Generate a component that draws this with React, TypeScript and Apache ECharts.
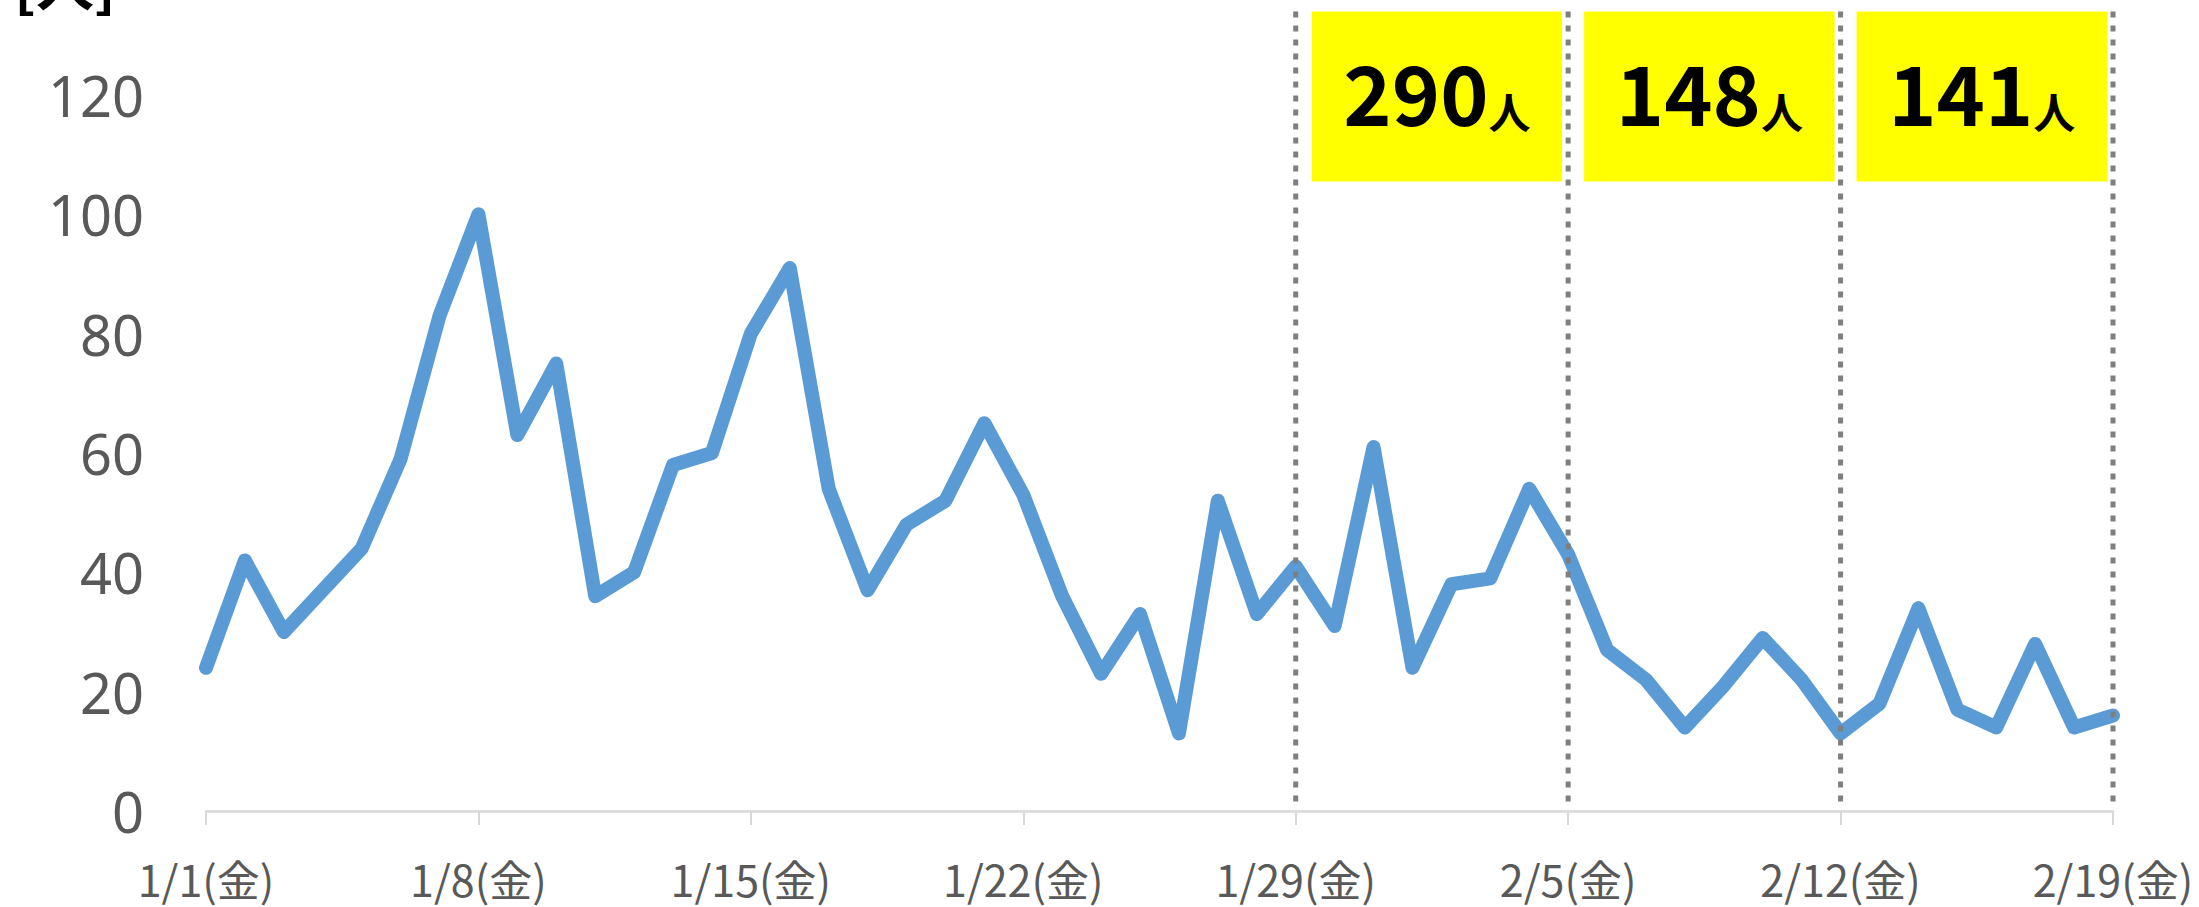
import React, { useEffect, useRef } from "react";
import * as echarts from "echarts";

const categories = [
  "1/1(金)", "1/2(土)", "1/3(日)", "1/4(月)", "1/5(火)", "1/6(水)", "1/7(木)",
  "1/8(金)", "1/9(土)", "1/10(日)", "1/11(月)", "1/12(火)", "1/13(水)", "1/14(木)",
  "1/15(金)", "1/16(土)", "1/17(日)", "1/18(月)", "1/19(火)", "1/20(水)", "1/21(木)",
  "1/22(金)", "1/23(土)", "1/24(日)", "1/25(月)", "1/26(火)", "1/27(水)", "1/28(木)",
  "1/29(金)", "1/30(土)", "1/31(日)", "2/1(月)", "2/2(火)", "2/3(水)", "2/4(木)",
  "2/5(金)", "2/6(土)", "2/7(日)", "2/8(月)", "2/9(火)", "2/10(水)", "2/11(木)",
  "2/12(金)", "2/13(土)", "2/14(日)", "2/15(月)", "2/16(火)", "2/17(水)", "2/18(木)",
  "2/19(金)",
];

const dailyCounts = [
  24, 42, 30, 37, 44, 59, 83,
  100, 63, 75, 36, 40, 58, 60,
  80, 91, 54, 37, 48, 52, 65,
  53, 36, 23, 33, 13, 52, 33,
  41, 31, 61, 24, 38, 39, 54,
  43, 27, 22, 14, 21, 29, 22,
  13, 18, 34, 17, 14, 28, 14,
  16,
];

const dividerDates = ["1/29(金)", "2/5(金)", "2/12(金)", "2/19(金)"];
const weeklyTotals = ["290", "148", "141"];
const unitLabel = "[人]";
const yMin = 0;
const yMax = 120;
const yInterval = 20;

export default function App() {
  const ref = useRef<HTMLDivElement | null>(null);

  useEffect(() => {
    if (!ref.current) return;
    const chart = echarts.init(ref.current, null, { renderer: "svg" });
    const option: any = {
      animation: false,
      backgroundColor: "#ffffff",
      grid: { left: 206, right: 86, top: 95, bottom: 96 },
      xAxis: {
        type: "category",
        data: categories,
        boundaryGap: false,
        axisLine: { show: true, lineStyle: { color: "#d9d9d9", width: 2.5 } },
        axisTick: { show: true, interval: 6, length: 14, lineStyle: { color: "#d9d9d9", width: 2 } },
        axisLabel: {
          interval: 6,
          margin: 45,
          color: "#595959",
          fontSize: 43,
          fontFamily: "'Noto Sans CJK JP', 'Noto Sans', sans-serif",
        },
        splitLine: { show: false },
      },
      yAxis: {
        type: "value",
        min: yMin,
        max: yMax,
        interval: yInterval,
        axisLine: { show: false },
        axisTick: { show: false },
        splitLine: { show: false },
        axisLabel: {
          margin: 62,
          color: "#595959",
          fontSize: 56,
          fontFamily: "'Noto Sans', 'Open Sans', sans-serif",
        },
      },
      series: [
        {
          type: "line",
          data: dailyCounts,
          symbol: "none",
          smooth: false,
          lineStyle: { color: "#5b9bd5", width: 14, join: "round", cap: "round" },
        },
      ],
    };
    chart.setOption(option);

    const px = (cat: string, v: number) =>
      chart.convertToPixel({ xAxisIndex: 0, yAxisIndex: 0 }, [categories.indexOf(cat), v]) as number[];

    const graphics: any[] = [];
    const lineTopV = 134;
    const boxTopV = 134;
    const boxBottomV = 105.5;

    for (let i = 0; i < weeklyTotals.length; i++) {
      const a = px(dividerDates[i], boxTopV);
      const b = px(dividerDates[i + 1], boxBottomV);
      const x0 = a[0] + 16;
      const x1 = b[0] - 6;
      graphics.push({
        type: "rect",
        z: 90,
        shape: { x: x0, y: a[1], width: x1 - x0, height: b[1] - a[1] },
        style: { fill: "#ffff00" },
      });
      graphics.push({
        type: "text",
        z: 95,
        x: (x0 + x1) / 2,
        y: (a[1] + b[1]) / 2 - 8,
        style: {
          text: "{n|" + weeklyTotals[i] + "}{u|人}",
          align: "center",
          verticalAlign: "middle",
          rich: {
            n: {
              fontSize: 82,
              fontWeight: "bold",
              fontFamily: "'Noto Sans CJK JP', sans-serif",
              fill: "#000000",
              verticalAlign: "bottom",
              lineHeight: 86,
            },
            u: {
              fontSize: 42,
              fontWeight: "bold",
              fontFamily: "'Noto Sans CJK JP', sans-serif",
              fill: "#000000",
              verticalAlign: "bottom",
              lineHeight: 86,
            },
          },
        },
      });
    }

    dividerDates.forEach((d) => {
      const top = px(d, lineTopV);
      const bot = px(d, 0);
      graphics.push({
        type: "line",
        z: 100,
        shape: { x1: top[0], y1: top[1], x2: bot[0], y2: bot[1] - 3 },
        style: { stroke: "#7f7f7f", lineWidth: 5, lineDash: [6, 8] },
      });
    });

    graphics.push({
      type: "text",
      z: 100,
      x: 14,
      y: 10,
      style: {
        text: unitLabel,
        fontSize: 58,
        fontWeight: "bold",
        fontFamily: "'Noto Sans CJK JP', sans-serif",
        fill: "#000000",
        align: "left",
        verticalAlign: "bottom",
      },
    });

    chart.setOption({ graphic: graphics });

    return () => {
      chart.dispose();
    };
  }, []);

  return (
    <div
      ref={ref}
      style={{ position: "fixed", left: 0, top: 0, width: 2199, height: 907 }}
    />
  );
}
